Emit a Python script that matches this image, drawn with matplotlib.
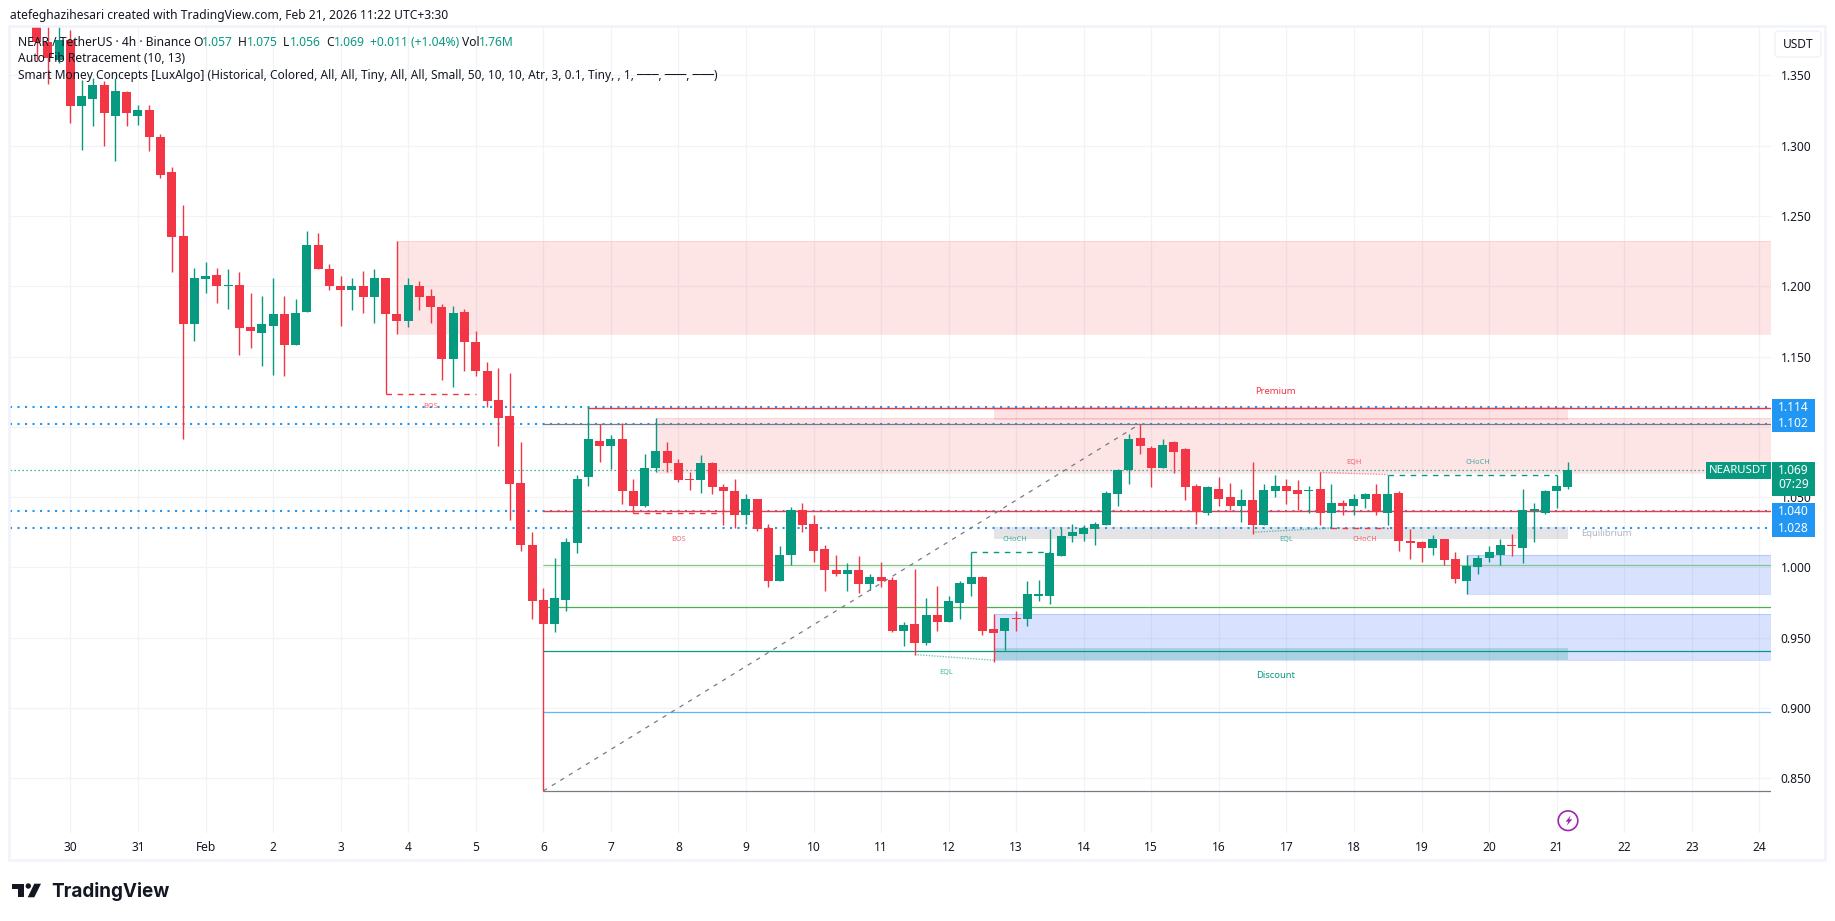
import numpy as np
import matplotlib
matplotlib.use("Agg")
import matplotlib.pyplot as plt
from matplotlib.patches import Rectangle, Circle, Polygon, FancyBboxPatch

W, H = 1835, 921
UI_FONT = ["Noto Sans", "DejaVu Sans"]
plt.rcParams["font.family"] = UI_FONT

RED, GREEN, BLUE, GREY = "#F23645", "#089981", "#2196F3", "#787B86"
INK = "#131722"
GRID = "#F1F3F6"

# ---- candles: index counted in 4h bars from Feb 6 ----
first_bar = -45
opens = [1.392,1.374,1.361,1.375,1.328,1.333,1.343,1.321,1.338,1.321,1.325,1.306,1.281,1.236,1.173,1.205,1.208,1.200,1.201,1.171,
         1.167,1.172,1.180,1.158,1.182,1.229,1.212,1.200,1.197,1.200,1.192,1.206,1.180,1.175,1.200,1.193,1.185,1.148,1.182,1.160,
         1.140,1.119,1.108,1.060,1.016,
         0.977,0.960,0.977,1.017,1.064,1.090,1.086,1.091,1.054,1.044,1.071,1.083,1.074,1.063,1.062,1.074,1.057,1.054,1.037,1.049,
         1.028,0.990,1.009,1.041,1.031,1.013,0.998,0.995,0.998,0.988,0.993,0.991,0.955,0.960,0.946,0.966,0.961,0.975,0.988,0.993,
         0.956,0.955,0.964,0.963,0.980,0.980,1.008,1.022,1.024,1.027,1.030,1.052,
         1.069,1.092,1.085,1.071,1.089,1.084,1.058,1.039,1.056,1.050,1.044,1.048,1.030,1.054,1.058,1.055,1.054,1.056,1.039,1.046,
         1.044,1.049,1.052,1.039,1.053,1.019,1.018,1.014,1.020,1.006,0.990,1.000,1.007,1.009,1.016,1.014,1.040,1.039,1.054,1.057]
highs = [1.400,1.385,1.388,1.382,1.347,1.348,1.346,1.348,1.339,1.329,1.329,1.308,1.285,1.258,1.213,1.217,1.213,1.212,1.210,1.195,
         1.193,1.206,1.193,1.191,1.239,1.238,1.216,1.207,1.206,1.211,1.212,1.206,1.232,1.206,1.204,1.198,1.187,1.186,1.184,1.168,
         1.146,1.142,1.138,1.089,1.025,
         0.985,1.007,1.021,1.066,1.114,1.102,1.094,1.103,1.063,1.081,1.106,1.089,1.077,1.068,1.080,1.075,1.059,1.063,1.052,1.049,
         1.031,1.015,1.043,1.046,1.037,1.016,1.009,1.003,1.008,0.995,1.004,0.993,0.961,0.999,0.978,0.987,0.980,0.990,1.011,0.994,
         0.967,0.964,0.969,0.990,0.991,1.027,1.028,1.031,1.030,1.032,1.054,1.070,
         1.095,1.102,1.086,1.091,1.090,1.085,1.059,1.058,1.064,1.060,1.056,1.075,1.059,1.066,1.063,1.062,1.058,1.068,1.059,1.048,
         1.052,1.053,1.059,1.066,1.054,1.027,1.019,1.023,1.020,1.011,1.009,1.009,1.015,1.020,1.024,1.056,1.046,1.055,1.066,1.075]
lows = [1.360,1.344,1.359,1.316,1.297,1.314,1.300,1.289,1.314,1.315,1.296,1.277,1.210,1.091,1.161,1.195,1.188,1.184,1.151,1.156,
        1.143,1.137,1.136,1.158,1.182,1.212,1.197,1.172,1.183,1.181,1.174,1.123,1.166,1.171,1.183,1.174,1.133,1.128,1.140,1.136,
        1.114,1.086,1.034,1.012,0.963,
        0.841,0.954,0.969,1.010,1.058,1.075,1.070,1.045,1.039,1.043,1.068,1.068,1.061,1.055,1.053,1.052,1.030,1.028,1.031,1.026,
        0.986,0.990,1.002,1.025,1.004,0.983,0.994,0.983,0.982,0.984,0.986,0.954,0.944,0.938,0.945,0.955,0.961,0.963,0.980,0.952,
        0.933,0.941,0.955,0.958,0.976,0.974,1.008,1.018,1.019,1.016,1.030,1.044,
        1.059,1.081,1.057,1.071,1.067,1.048,1.031,1.037,1.044,1.041,1.032,1.024,1.030,1.050,1.045,1.041,1.039,1.030,1.028,1.037,
        1.037,1.042,1.037,1.030,1.012,1.006,1.004,1.009,1.002,0.989,0.981,0.995,1.004,1.002,1.008,1.003,1.018,1.038,1.042,1.056]
closes = [1.374,1.362,1.375,1.328,1.335,1.343,1.323,1.339,1.323,1.325,1.306,1.279,1.235,1.173,1.206,1.207,1.200,1.200,1.170,1.168,
          1.173,1.180,1.158,1.181,1.229,1.212,1.200,1.197,1.200,1.192,1.206,1.180,1.175,1.201,1.192,1.185,1.148,1.181,1.160,1.140,
          1.118,1.106,1.059,1.016,0.976,
          0.960,0.978,1.018,1.063,1.091,1.086,1.091,1.054,1.044,1.071,1.083,1.074,1.062,1.062,1.074,1.057,1.054,1.037,1.049,1.027,
          0.990,1.009,1.041,1.030,1.012,0.998,0.995,0.998,0.988,0.993,0.990,0.955,0.959,0.946,0.966,0.961,0.976,0.989,0.993,0.955,
          0.953,0.964,0.963,0.981,0.981,1.010,1.022,1.025,1.028,1.031,1.053,1.069,
          1.091,1.086,1.071,1.087,1.082,1.057,1.040,1.057,1.049,1.044,1.048,1.030,1.055,1.058,1.054,1.052,1.055,1.039,1.046,1.044,
          1.049,1.052,1.040,1.052,1.019,1.017,1.014,1.020,1.005,0.992,1.001,1.007,1.011,1.016,1.015,1.041,1.040,1.054,1.058,1.069]

# ---- axis labels ----
price_ticks = [1.35, 1.30, 1.25, 1.20, 1.15, 1.10, 1.05, 1.00, 0.95, 0.90, 0.85]
price_tick_labels = ["1.350", "1.300", "1.250", "1.200", "1.150", "", "1.050", "1.000", "0.950", "0.900", "0.850"]
day_bars = [-42, -36, -30, -24, -18, -12, -6, 0, 6, 12, 18, 24, 30, 36, 42, 48, 54, 60, 66, 72, 78, 84, 90, 96, 102, 108]
day_labels = ["30", "31", "Feb", "2", "3", "4", "5", "6", "7", "8", "9", "10", "11", "12", "13", "14",
              "15", "16", "17", "18", "19", "20", "21", "22", "23", "24"]

# ---- indicator levels ----
fib_levels = [1.102, 1.0404, 1.002, 0.9715, 0.9405, 0.897, 0.841]
fib_colors = [GREY, RED, "#81C784", "#4CAF50", "#089981", "#64B5F6", GREY]
fib_widths = [0.9, 1.0, 0.9, 0.9, 0.9, 0.9, 0.9]
swing_bars = [0, 53]
swing_prices = [0.841, 1.102]
alert_levels = [1.114, 1.102, 1.040, 1.028]
last_price = 1.069
supply_zones = [(-13, 1.166, 1.232), (10, 1.067, 1.106)]
demand_zones = [(40, 0.934, 0.9666), (82, 0.981, 1.0086)]
structure_dashes = [(-14, -6, 1.123, RED), (8, 16, 1.039, RED), (38, 45, 1.011, GREEN),
                    (70, 75, 1.028, RED), (75, 90, 1.066, GREEN)]
equal_levels = [(33, 40, 0.938, 0.934, GREEN), (63, 70, 1.025, 1.028, GREEN), (69, 75, 1.0676, 1.066, RED)]
small_labels = [(-10, 1.1146, "BOS", RED), (12, 1.0197, "BOS", RED), (41.9, 1.0197, "CHoCH", GREEN),
                (35.8, 0.925, "EQL", GREEN), (66, 1.0197, "EQL", GREEN), (72, 1.0743, "EQH", RED),
                (83, 1.0743, "CHoCH", GREEN), (73, 1.0197, "CHoCH", RED)]

# ---- figure ----
fig = plt.figure(figsize=(W / 100, H / 100), dpi=100, facecolor="white")
PANE_L, PANE_R, PANE_T, PANE_B = 10, 1771, 27, 833
ax = fig.add_axes([PANE_L / W, 1 - PANE_B / H, (PANE_R - PANE_L) / W, (PANE_B - PANE_T) / H])
BAR_0, BAR_PX = 543.3, 11.259
ax.set_xlim((PANE_L - BAR_0) / BAR_PX, (PANE_R - BAR_0) / BAR_PX)
Y_1350, Y_PER = 75.3, 1406.0
ax.set_ylim(1.35 - (PANE_B - Y_1350) / Y_PER, 1.35 + (Y_1350 - PANE_T) / Y_PER)
xr = ax.get_xlim()[1]
for s in ax.spines.values():
    s.set_visible(False)
ax.set_xticks(day_bars)
ax.set_xticklabels(day_labels, fontsize=8.6, color=INK)
for lb in ax.get_xticklabels():
    if lb.get_text() == "Feb":
        lb.set_fontweight("bold")
ax.set_yticks(price_ticks)
ax.set_yticklabels(price_tick_labels, fontsize=8.6, color=INK)
ax.yaxis.tick_right()
ax.tick_params(axis="both", length=0)
ax.tick_params(axis="y", pad=7)
ax.tick_params(axis="x", pad=6)
ax.grid(True, color=GRID, lw=0.9, zorder=0)
ax.set_axisbelow(True)

def px_y(p):
    return Y_1350 + (1.35 - p) * Y_PER

def zone(x0, x1, p0, p1, color, alpha, edge_alpha=None, z=1):
    ax.add_patch(Rectangle((x0, p0), x1 - x0, p1 - p0, facecolor=color, alpha=alpha, lw=0, zorder=z))
    if edge_alpha:
        ax.add_patch(Rectangle((x0, p0), x1 - x0, p1 - p0, fill=False, edgecolor=color, alpha=edge_alpha, lw=0.8, zorder=z))

for x0, p0, p1 in supply_zones:
    zone(x0, xr, p0, p1, RED, 0.13, 0.1)
for x0, p0, p1 in demand_zones:
    zone(x0, xr, p0, p1, "#2962FF", 0.18, 0.2)
zone(40, 91, 1.105, 1.114, RED, 0.15, z=2)
zone(40, 91, 1.020, 1.029, GREY, 0.2, z=2)
zone(40, 91, 0.934, 0.943, GREEN, 0.22, z=2)

for p in alert_levels:
    ax.plot([ax.get_xlim()[0], xr], [p, p], color=BLUE, lw=1.5, ls=(0, (1, 2.6)), zorder=2.5)
ax.plot([ax.get_xlim()[0], xr], [last_price, last_price], color=GREEN, lw=0.9, ls=(0, (1, 2.2)), zorder=2.5)

for lev, col, wd in zip(fib_levels, fib_colors, fib_widths):
    ax.plot([0, xr], [lev, lev], color=col, lw=wd, zorder=3, solid_capstyle="butt")
ax.plot([4, xr], [1.1135, 1.1135], color=RED, lw=1.0, zorder=3)
ax.plot(swing_bars, swing_prices, color=GREY, lw=0.9, ls=(0, (3.5, 4.5)), zorder=3)

for x0, x1, p, col in structure_dashes:
    ax.plot([x0, x1], [p, p], color=col, lw=1.0, ls=(0, (4, 4)), zorder=3)
for x0, x1, p0, p1, col in equal_levels:
    ax.plot([x0, x1], [p0, p1], color=col, lw=1.0, ls=(0, (1, 1)), alpha=0.55, zorder=3)

bars = np.arange(first_bar, first_bar + len(opens))
o, h, l, c = map(np.array, (opens, highs, lows, closes))
colors = [GREEN if cc >= oo else RED for oo, cc in zip(o, c)]
ax.vlines(bars, l, h, colors=colors, lw=1.0, zorder=5)
ax.bar(bars, np.maximum(np.abs(c - o), 0.0012), bottom=np.minimum(o, c), width=0.8, color=colors, lw=0, zorder=6)

for x, p, s, col in small_labels:
    ax.text(x, p, s, color=col, alpha=0.75, fontsize=5.3, ha="center", va="center", zorder=8)
ax.text(65, 1.1248, "Premium", color=RED, fontsize=6.8, ha="center", va="center", zorder=8)
ax.text(65, 0.923, "Discount", color=GREEN, fontsize=6.8, ha="center", va="center", zorder=8)
ax.text(94.4, 1.024, "Equilibrium", color="#B2B5BE", fontsize=6.8, ha="center", va="center", zorder=8)

# ---- pixel overlay for the chrome ----
ov = fig.add_axes([0, 0, 1, 1], zorder=20)
ov.set_xlim(0, W)
ov.set_ylim(H, 0)
ov.axis("off")
ov.patch.set_alpha(0)

ov.add_patch(Rectangle((9, 26), 1816, 834, fill=False, edgecolor="#F0F3FA", lw=1.8))

def label(x, y, s, color=INK, size=8.6, ha="left", **kw):
    return ov.text(x, y, s, color=color, fontsize=size, ha=ha, va="center", **kw)

label(10, 15.5, "atefeghazihesari created with TradingView.com, Feb 21, 2026 11:22 UTC+3:30", size=8.7)
GT = "#089981"
label(18, 42, "NEAR / TetherUS · 4h · Binance", size=8.7)
for x, s, col in [(193.5, "O", INK), (201.5, "1.057", GT), (238, "H", INK), (247, "1.075", GT), (283, "L", INK),
                  (290, "1.056", GT), (326, "C", INK), (334, "1.069", GT), (370, "+0.011 (+1.04%)", GT),
                  (462, "Vol", INK), (479, "1.76M", GT)]:
    label(x, 42, s, color=col, size=8.7)
label(18, 59, "Auto Fib Retracement (10, 13)", size=8.7)
label(18, 76, "Smart Money Concepts [LuxAlgo] (Historical, Colored, All, All, Tiny, All, All, Small, 50, 10, 10, Atr, 3, 0.1, Tiny, , 1, ───, ───, ───)", size=8.58)

# price scale boxes
BX0, BX1 = 1772, 1815
for p in alert_levels:
    yy = px_y(p)
    ov.add_patch(Rectangle((BX0, yy - 8.5), BX1 - BX0, 17, facecolor=BLUE, lw=0, zorder=3))
    label((BX0 + BX1) / 2, yy, f"{p:.3f}", color="white", ha="center", zorder=4)
yy = px_y(last_price)
ov.add_patch(Rectangle((BX0, yy - 8.5), BX1 - BX0, 34, facecolor=GREEN, lw=0, zorder=3))
ov.add_patch(Rectangle((1706, yy - 8.5), 65, 17, facecolor=GREEN, lw=0, zorder=3))
label((BX0 + BX1) / 2, yy, "1.069", color="white", ha="center", zorder=4)
label((BX0 + BX1) / 2, yy + 14, "07:29", color="white", ha="center", zorder=4)
label(1738.5, yy, "NEARUSDT", color="white", ha="center", zorder=4, size=8.2)

# USDT button
ov.add_patch(FancyBboxPatch((1778, 34), 40, 20, boxstyle="round,pad=3,rounding_size=4",
                            facecolor="white", edgecolor="#F0F3FA", lw=1.2))
label(1798, 44, "USDT", ha="center")

# lightning icon on the time axis
ov.add_patch(Circle((1568, 820.7), 9.8, fill=False, edgecolor="#9C27B0", lw=1.2))
bolt = [(1570.7, 815.3), (1565.7, 821.7), (1568.3, 821.7), (1566.7, 825.7), (1572.3, 819.3), (1569.3, 819.3)]
ov.add_patch(Polygon(bolt, closed=True, facecolor="#9C27B0", lw=0))

# TradingView logo
ov.add_patch(Polygon([(12.3, 883.7), (24.3, 883.7), (24.3, 897.3), (17.7, 897.3), (17.7, 888.7), (12.3, 888.7)],
                     closed=True, facecolor=INK, lw=0))
ov.add_patch(Circle((28.3, 886), 2.7, facecolor=INK, lw=0))
ov.add_patch(Polygon([(34.3, 883.7), (41, 883.7), (34.3, 897.3), (27.7, 897.3)], closed=True, facecolor=INK, lw=0))
ov.text(51, 897, "TradingView", color=INK, fontsize=13.6, fontweight="bold", family=["Inter", "DejaVu Sans"],
        ha="left", va="baseline")

fig.savefig("out.png", dpi=100, facecolor="white")
